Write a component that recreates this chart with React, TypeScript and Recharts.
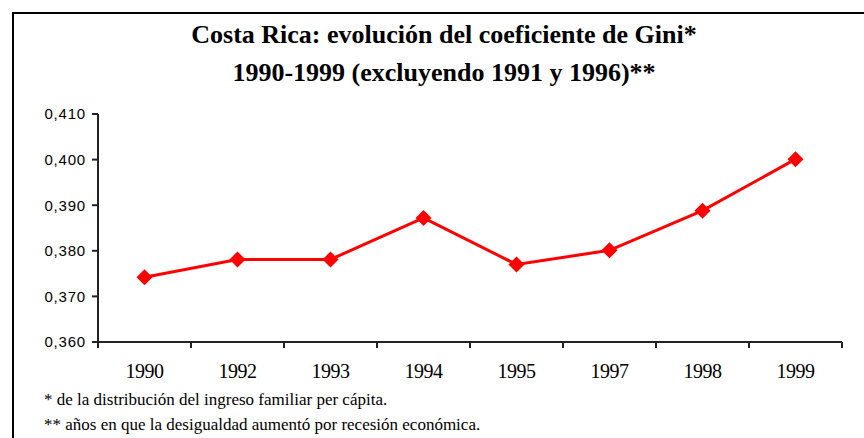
import { LineChart, Line, XAxis, YAxis } from 'recharts';

const years = ['1990', '1992', '1993', '1994', '1995', '1997', '1998', '1999'];
const gini = [0.3742, 0.3781, 0.3781, 0.3872, 0.377, 0.3801, 0.3888, 0.4001];
const yTicks = [0.36, 0.37, 0.38, 0.39, 0.4, 0.41];
// tick marks sit between categories, labels in the middle of each band
const boundaries = [0, 1, 2, 3, 4, 5, 6, 7, 8];
const centers = years.map((_, i) => i + 0.5);

const chartData = years.map((year, i) => ({ pos: i + 0.5, year, gini: gini[i] }));

const SERIF = 'Liberation Serif';
const SANS = 'Liberation Sans';

const Diamond = (props: any) => {
  const { cx, cy } = props;
  if (cx == null || cy == null) return null;
  const r = 8;
  return (
    <polygon
      points={`${cx},${cy - r} ${cx + r},${cy} ${cx},${cy + r} ${cx - r},${cy}`}
      fill="#ff0000"
    />
  );
};

const XTick = (props: any) => {
  const { x, y, payload } = props;
  const v = payload.value as number;
  if (Number.isInteger(v)) {
    return <line x1={x} x2={x} y1={y} y2={y + 6} stroke="#222" strokeWidth={2} />;
  }
  return (
    <text
      x={x}
      y={y + 36}
      textAnchor="middle"
      fontSize={20}
      letterSpacing={-0.5}
      fontFamily={SERIF}
      fill="#000"
    >
      {years[Math.floor(v)]}
    </text>
  );
};

const formatY = (v: number) => v.toFixed(3).replace('.', ',');

const App = () => {
  return (
    <div style={{ position: 'absolute', left: 0, top: 0, width: 864, height: 438, background: '#fff', overflow: 'hidden' }}>
      {/* frame */}
      <div
        style={{
          position: 'absolute',
          left: 12,
          top: 12,
          width: 900,
          height: 500,
          borderLeft: '2px solid #000',
          borderTop: '2px solid #000',
        }}
      />
      <div
        style={{
          position: 'absolute',
          left: 0,
          top: 16,
          width: 888,
          textAlign: 'center',
          fontFamily: SERIF,
          fontWeight: 'bold',
          fontSize: 26,
          lineHeight: '38px',
          color: '#000',
        }}
      >
        <div>Costa Rica: evolución del coeficiente de Gini*</div>
        <div>1990-1999 (excluyendo 1991 y 1996)**</div>
      </div>
      <LineChart
        width={864}
        height={438}
        data={chartData}
        margin={{ top: 114, right: 22, left: 0, bottom: 56 }}
      >
        <XAxis
          type="number"
          dataKey="pos"
          domain={[0, 8]}
          ticks={[...boundaries, ...centers]}
          interval={0}
          height={40}
          stroke="#222"
          strokeWidth={2}
          tickLine={false}
          tickSize={0}
          tickMargin={0}
          tick={<XTick />}
        />
        <YAxis
          width={98}
          domain={[0.36, 0.41]}
          ticks={yTicks}
          interval={0}
          tickFormatter={formatY}
          stroke="#222"
          strokeWidth={2}
          tickSize={6}
          tickMargin={6}
          tick={{ fontSize: 15, fill: '#000', letterSpacing: 0.8, fontFamily: SANS }}
        />
        <Line
          type="linear"
          dataKey="gini"
          stroke="#ff0000"
          strokeWidth={3}
          dot={<Diamond />}
          activeDot={false}
          isAnimationActive={false}
        />
      </LineChart>
      <div
        style={{
          position: 'absolute',
          left: 44,
          top: 387,
          fontFamily: SERIF,
          fontSize: 17,
          lineHeight: '25px',
          color: '#000',
        }}
      >
        <div>* de la distribución del ingreso familiar per cápita.</div>
        <div>** años en que la desigualdad aumentó por recesión económica.</div>
      </div>
    </div>
  );
};

export default App;
